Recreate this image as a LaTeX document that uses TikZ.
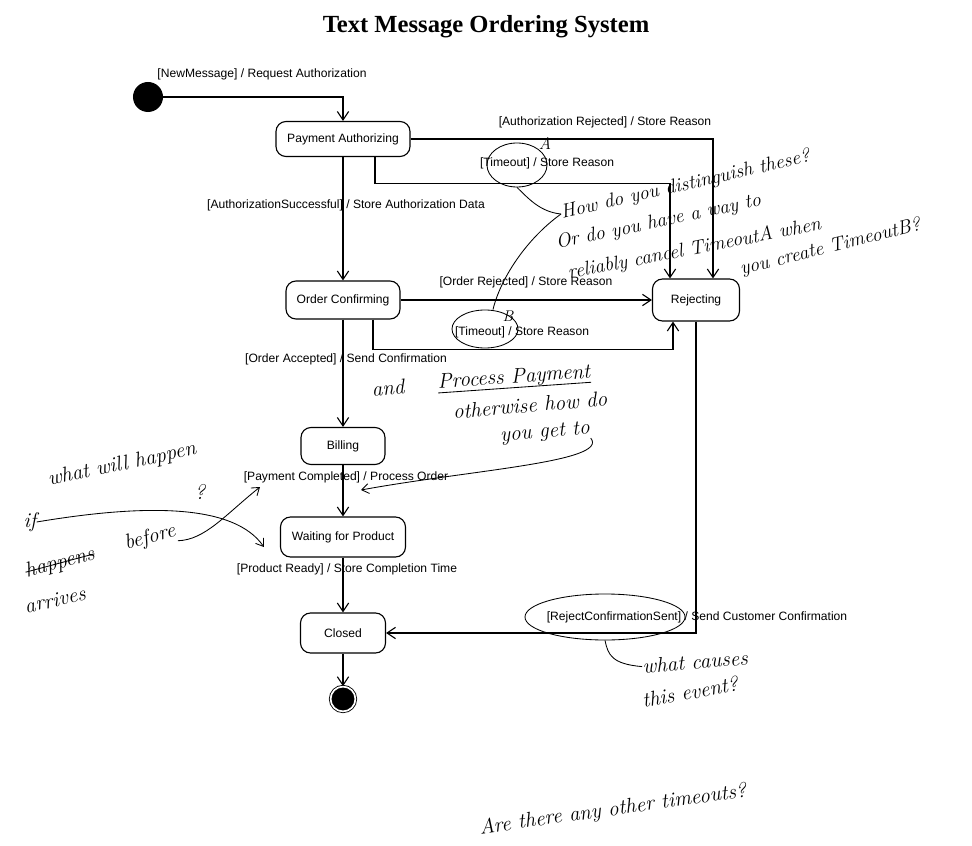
\documentclass[tikz,border=0pt]{standalone}
\usepackage{fontspec}
\newfontfamily\labelfont{Liberation Sans}
\newfontfamily\titlefont{Liberation Serif}
\usetikzlibrary{arrows.meta, shapes.geometric}

\tikzset{
  stbox/.style={draw, rounded corners=2.5mm, line width=0.8pt, inner sep=2pt,
    font=\labelfont\fontsize{8.6}{10}\selectfont},
  trans/.style={-{Straight Barb[length=6pt,width=8pt]}, line width=0.8pt},
  guard/.style={inner sep=1pt, font=\labelfont\fontsize{8.6}{10}\selectfont},
  hand/.style={inner sep=0pt, font=\fontsize{15}{17}\selectfont\itshape},
  pen/.style={line width=0.6pt},
  penarrow/.style={pen, -{Straight Barb[length=5pt,width=7pt]}},
  ring/.style={draw, ellipse, inner sep=0pt, line width=0.6pt},
}

\begin{document}
\begin{tikzpicture}[x=0.025cm, y=-0.025cm]
  \useasboundingbox (0,0) rectangle (972,846);

  % Title
  \node[font=\titlefont\fontsize{17.5}{20}\selectfont\bfseries] (title) at (486,27) {Text Message Ordering System};

  % States
  \node[circle, fill, inner sep=0pt, minimum size=0.75cm] (init) at (148,97) {};
  \node[stbox, minimum width=3.35cm, minimum height=0.875cm] (pa) at (343,139) {Payment Authorizing};
  \node[stbox, minimum width=2.85cm, minimum height=0.95cm] (oc) at (343,300) {Order Confirming};
  \node[stbox, minimum width=2.175cm, minimum height=1.05cm] (rej) at (696,300) {Rejecting};
  \node[stbox, minimum width=2.1cm, minimum height=0.925cm] (bill) at (343,446) {Billing};
  \node[stbox, minimum width=3.125cm, minimum height=1cm] (wait) at (343,537) {Waiting for Product};
  \node[stbox, minimum width=2.125cm, minimum height=1cm] (closed) at (343,633) {Closed};
  \node[circle, fill, draw, double=white, double distance=1.2pt, line width=0.6pt,
        inner sep=0pt, minimum size=0.62cm] (final) at (343,699) {};

  % Transitions
  \draw[trans] (init) -| (pa);
  \draw[trans] (pa) -- (oc);
  \draw[trans] (pa.east) -| ([xshift=0.425cm]rej.north);
  \draw[trans] ([xshift=0.8cm]pa.south) -- ++(0,26) -| ([xshift=-0.65cm]rej.north);
  \draw[trans] (oc) -- (rej);
  \draw[trans] ([xshift=0.75cm]oc.south) -- ++(0,30) -| ([xshift=-0.575cm]rej.south);
  \foreach \a/\b in {oc/bill, bill/wait, wait/closed, closed/final}
    \draw[trans] (\a) -- (\b);
  \draw[trans] (rej) |- (closed);

  % Transition labels
  \node[guard] (gNew) at (262,74) {[NewMessage] / Request Authorization};
  \node[guard] (gRej) at (605,122) {[Authorization Rejected] / Store Reason};
  \node[guard] (gTimeA) at (547,163) {[Timeout] / Store Reason};
  \node[guard] (gOk) at (346,205) {[AuthorizationSuccessful] / Store Authorization Data};
  \node[guard] (gOrdRej) at (526,282) {[Order Rejected] / Store Reason};
  \node[guard] (gTimeB) at (522,332) {[Timeout] / Store Reason};
  \node[guard] (gAcc) at (346,359) {[Order Accepted] / Send Confirmation};
  \node[guard] (gPaid) at (346,477) {[Payment Completed] / Process Order};
  \node[guard] (gReady) at (347,569) {[Product Ready] / Store Completion Time};
  \node[guard] (gSent) at (697,617) {[RejectConfirmationSent] / Send Customer Confirmation};

  % Hand-written review notes
  \node[ring, minimum width=1.5cm, minimum height=1.1cm] (ringA) at (517,165) {};
  \node[ring, minimum width=1.65cm, minimum height=0.95cm] (ringB) at (485,329) {};
  \node[ring, minimum width=4cm, minimum height=1.15cm] (ringC) at (605,617) {};
  \node[hand, font=\fontsize{12}{13}\selectfont\itshape] (markA) at (545,143) {A};
  \node[hand, font=\fontsize{11}{12}\selectfont\itshape] (markB) at (508,316) {B};

  \node[hand, font=\fontsize{14}{16}\selectfont\itshape, rotate=13, anchor=west] (q1) at (561,214) {How do you distinguish these?};
  \node[hand, font=\fontsize{14}{16}\selectfont\itshape, rotate=12, anchor=west] (q2) at (556,244) {Or do you have a way to};
  \node[hand, font=\fontsize{14}{16}\selectfont\itshape, rotate=11, anchor=west] (q3) at (568,274) {reliably cancel TimeoutA when};
  \node[hand, font=\fontsize{14}{16}\selectfont\itshape, rotate=14, anchor=west] (q4) at (740,270) {you create TimeoutB?};
  \draw[pen] (ringA.south) .. controls (528,198) and (540,212) .. (q1.west);
  \draw[pen] (q1.west) .. controls (525,240) and (500,280) .. ([xshift=0.2cm]ringB.north);

  \node[hand, rotate=5] (and) at (388,388) {and};
  \node[hand, rotate=4] (pay) at (514,378) {Process Payment};
  \draw[pen] (pay.south west) -- (pay.south east);
  \node[hand, rotate=5] (ow) at (530,405) {otherwise how do};
  \node[hand, rotate=5] (gt) at (545,433) {you get to};
  \coordinate (pcTip) at (361,490);
  \draw[penarrow] (gt.south east) .. controls (610,462) and (470,470) .. (pcTip);

  \node[hand, rotate=12] (wh) at (122,465) {what will happen};
  \node[hand] (if) at (30,522) {if};
  \node[hand] (qm) at (200,492) {?};
  \node[hand, rotate=15] (bf) at (150,538) {before};
  \node[hand, rotate=15] (hp) at (60,563) {happens};
  \draw[pen] (hp.west) -- (hp.east);
  \node[hand, rotate=12] (ar) at (55,600) {arrives};
  \coordinate (pcLeft) at (260,487);
  \draw[penarrow] (if.east) .. controls (150,503) and (235,505) .. ([xshift=-0.4cm, yshift=-0.25cm]wait.west);
  \draw[penarrow] (bf.south east) .. controls (205,540) and (225,515) .. (pcLeft);

  \node[hand, rotate=5] (wc) at (695,662) {what causes};
  \node[hand, rotate=10] (te) at (690,692) {this event?};
  \draw[pen] (ringC.south) .. controls (608,655) and (612,664) .. (wc.west);

  \node[hand, rotate=8] (tm) at (613,810) {Are there any other timeouts?};
\end{tikzpicture}
\end{document}
